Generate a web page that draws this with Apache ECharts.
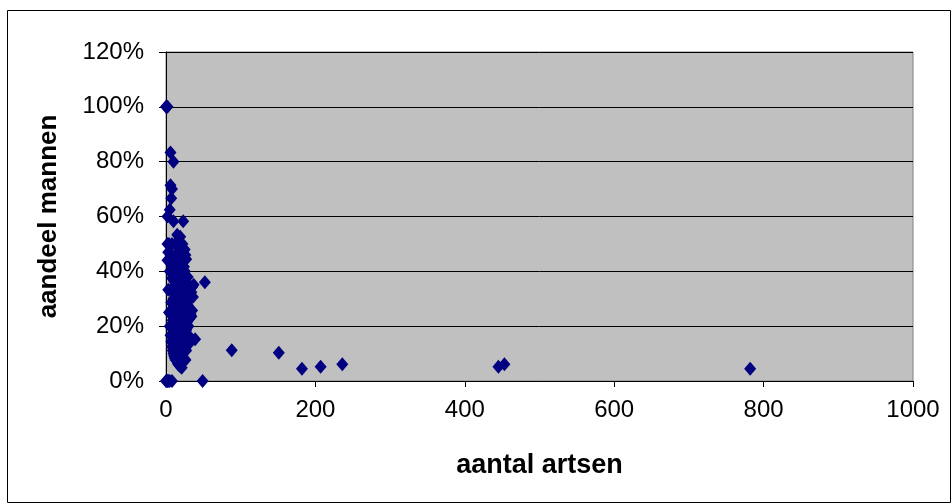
<!DOCTYPE html>
<html>
<head>
<meta charset="utf-8">
<script src="https://cdn.jsdelivr.net/npm/echarts@6/dist/echarts.min.js"></script>
<style>
html,body{margin:0;padding:0;background:#fff;}
#chart{width:952px;height:504px;}
</style>
</head>
<body>
<div id="chart"></div>
<script>
// aantal artsen (x) and aandeel mannen (y, fraction)
const xTicks = [0, 200, 400, 600, 800, 1000];
const yTicks = [0, 0.2, 0.4, 0.6, 0.8, 1.0, 1.2];
const xTitle = 'aantal artsen';
const yTitle = 'aandeel mannen';

const aantalArtsen = [
  0,1,2,
  6,10,6,8,7,5,2,10,23,15,19,2,12,20,
  4,8,14,16,22,18,25,26,6,10,13,21,3,
  5,10,15,20,25,7,14,21,9,18,27,12,24,17,22,2,
  8,16,24,13,26,11,22,14,28,19,18,23,29,52,
  3,6,9,12,15,18,21,24,27,30,10,20,13,16,23,26,29,17,33,36,19,25,28,31,22,34,35,37,
  4,8,12,16,20,24,28,7,14,21,11,22,15,30,18,26,19,27,32,29,35,23,31,17,
  5,10,15,20,25,30,9,18,27,13,26,17,21,22,31,29,33,24,14,28,19,23,34,
  6,12,18,24,30,11,22,16,13,26,19,17,20,27,39,32,21,
  7,14,21,28,8,16,24,9,18,27,10,20,23,15,30,12,25,88,151,
  13,26,11,22,25,17,16,19,21,
  0,1,2,3,5,8,49,
  182,207,236,445,453,782
];
const aandeelMannen = [
  1.0,1.0,1.0,
  0.833,0.8,0.714,0.7,0.667,0.625,0.6,0.583,0.583,0.533,0.526,0.5,0.5,0.5,
  0.5,0.5,0.5,0.5,0.5,0.47,0.48,0.46,0.46,0.45,0.462,0.476,0.47,
  0.4,0.4,0.4,0.4,0.4,0.429,0.429,0.429,0.444,0.444,0.444,0.417,0.417,0.412,0.409,0.44,
  0.375,0.375,0.375,0.385,0.385,0.364,0.364,0.357,0.357,0.368,0.389,0.391,0.379,0.36,
  0.333,0.333,0.333,0.333,0.333,0.333,0.333,0.333,0.333,0.333,0.3,0.3,0.308,0.313,0.304,0.308,0.31,0.294,0.303,0.306,0.316,0.32,0.321,0.323,0.318,0.324,0.343,0.351,
  0.25,0.25,0.25,0.25,0.25,0.25,0.25,0.286,0.286,0.286,0.273,0.273,0.267,0.267,0.278,0.269,0.263,0.259,0.25,0.276,0.257,0.261,0.258,0.294,
  0.2,0.2,0.2,0.2,0.2,0.2,0.222,0.222,0.222,0.231,0.231,0.235,0.238,0.227,0.226,0.241,0.242,0.208,0.214,0.214,0.211,0.217,0.235,
  0.167,0.167,0.167,0.167,0.167,0.182,0.182,0.188,0.154,0.154,0.158,0.176,0.15,0.185,0.152,0.156,0.19,
  0.143,0.143,0.143,0.143,0.125,0.125,0.125,0.111,0.111,0.111,0.1,0.1,0.13,0.133,0.133,0.083,0.12,0.112,0.103,
  0.077,0.077,0.091,0.091,0.08,0.059,0.0625,0.053,0.048,
  0,0,0,0,0,0,0,
  0.045,0.052,0.061,0.052,0.061,0.045
];

const points = aantalArtsen.map((x, i) => [x, aandeelMannen[i]]);

const chart = echarts.init(document.getElementById('chart'), null, {renderer: 'canvas'});
chart.setOption({
  animation: false,
  backgroundColor: '#ffffff',
  graphic: [{
    type: 'rect',
    shape: {x: 7.5, y: 10.5, width: 943, height: 492},
    style: {fill: 'none', stroke: '#000000', lineWidth: 1},
    silent: true,
    z: -1
  }],
  grid: {
    left: 166, right: 39, top: 52, bottom: 123,
    show: true,
    backgroundColor: '#c0c0c0',
    borderColor: '#808080',
    borderWidth: 1
  },
  xAxis: {
    type: 'value',
    min: xTicks[0], max: xTicks[xTicks.length - 1], interval: xTicks[1] - xTicks[0],
    name: xTitle,
    nameLocation: 'middle',
    nameGap: 71,
    nameTextStyle: {fontFamily: 'Liberation Sans, Arial', fontSize: 27, fontWeight: 'bold', color: '#000', verticalAlign: 'top'},
    axisLine: {show: true, onZero: false, lineStyle: {color: '#000000', width: 1}},
    axisTick: {show: true, inside: false, length: 6, lineStyle: {color: '#000000'}},
    axisLabel: {margin: 17, fontFamily: 'Liberation Sans, Arial', fontSize: 24, color: '#000',
      formatter: v => String(v)},
    splitLine: {show: false}
  },
  yAxis: {
    type: 'value',
    min: yTicks[0], max: yTicks[yTicks.length - 1], interval: 0.2,
    name: yTitle,
    nameLocation: 'middle',
    nameRotate: 90,
    nameGap: 104,
    nameTextStyle: {fontFamily: 'Liberation Sans, Arial', fontSize: 26, fontWeight: 'bold', color: '#000', verticalAlign: 'bottom'},
    axisLine: {show: true, onZero: false, lineStyle: {color: '#000000', width: 1}},
    axisTick: {show: true, inside: false, length: 7, lineStyle: {color: '#000000'}},
    axisLabel: {margin: 22, fontFamily: 'Liberation Sans, Arial', fontSize: 24, color: '#000',
      formatter: v => Math.round(v * 100) + '%'},
    splitLine: {show: true, lineStyle: {color: '#000000', width: 1}}
  },
  series: [{
    type: 'scatter',
    data: points,
    symbol: 'diamond',
    symbolSize: [12, 14],
    itemStyle: {color: '#000080', opacity: 1},
    clip: false
  }]
});
</script>
</body>
</html>
